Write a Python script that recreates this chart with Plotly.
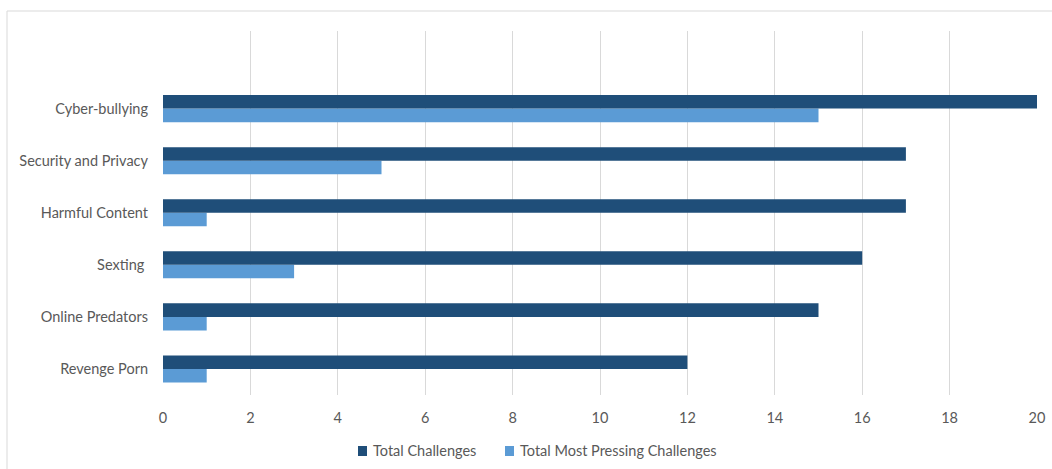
import plotly.graph_objects as go

categories = ["Cyber-bullying", "Security and Privacy", "Harmful Content", "Sexting ", "Online Predators", "Revenge Porn"]
total_challenges = [20, 17, 17, 16, 15, 12]
most_pressing = [15, 5, 1, 3, 1, 1]
x_ticks = [0, 2, 4, 6, 8, 10, 12, 14, 16, 18, 20]
series_names = ["Total Challenges", "Total Most Pressing Challenges"]

cats = categories[::-1]
tc = total_challenges[::-1]
mp = most_pressing[::-1]

DARK = "#1F4E79"
LIGHT = "#5B9BD5"
FONT = "Lato, Carlito, Open Sans, sans-serif"
FS = 14.5

fig = go.Figure()
fig.add_trace(go.Bar(y=cats, x=mp, orientation="h", name=series_names[1],
                     marker=dict(color=LIGHT, line=dict(width=0)), showlegend=False))
fig.add_trace(go.Bar(y=cats, x=tc, orientation="h", name=series_names[0],
                     marker=dict(color=DARK, line=dict(width=0)), showlegend=False))

L, R, T, B = 163, 1037, 31, 395
W, H = 1052, 469

def px(x):
    return (x - L) / (R - L)

def py(y):
    return (B - y) / (B - T)

shapes = [dict(type="rect", xref="paper", yref="paper",
               x0=px(7), x1=px(W + 20), y0=py(H + 20), y1=py(11),
               line=dict(color="#D9D9D9", width=1), fillcolor="rgba(0,0,0,0)", layer="below")]
annotations = []
legend_items = [(series_names[0], DARK, 358), (series_names[1], LIGHT, 505)]
for name, col, x0 in legend_items:
    shapes.append(dict(type="rect", xref="paper", yref="paper",
                       x0=px(x0), x1=px(x0 + 9), y0=py(456), y1=py(446),
                       line=dict(width=0), fillcolor=col))
    annotations.append(dict(text=name, xref="paper", yref="paper", x=px(x0 + 13), y=py(451),
                            xanchor="left", yanchor="middle", showarrow=False,
                            font=dict(family=FONT, size=FS, color="#595959")))

fig.update_layout(
    width=W, height=H,
    margin=dict(l=L, r=W - R, t=T, b=H - B, autoexpand=False),
    paper_bgcolor="white", plot_bgcolor="white",
    barmode="group", bargap=0.48, bargroupgap=0,
    font=dict(family=FONT, size=FS, color="#595959"),
    xaxis=dict(range=[0, 20], tickvals=x_ticks, showgrid=True, gridcolor="#D9D9D9", gridwidth=1,
               zeroline=False, showline=False, ticks="", tickfont=dict(size=FS, color="#595959"),
               ticklabelstandoff=12, fixedrange=True),
    yaxis=dict(range=[-0.5, 6.49], showgrid=False, zeroline=False, showline=False, ticks="",
               ticklabelstandoff=14, tickfont=dict(size=FS, color="#595959"), fixedrange=True),
    showlegend=False,
    shapes=shapes,
    annotations=annotations,
)

fig.write_html("out.html", config=dict(displayModeBar=False))
